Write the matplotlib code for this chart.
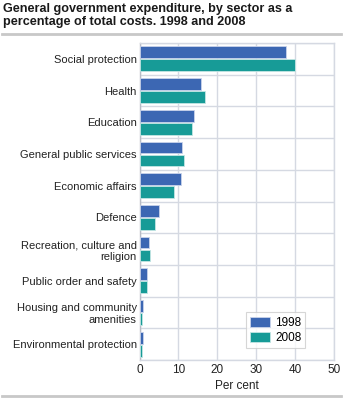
import matplotlib
matplotlib.use("Agg")
import matplotlib.pyplot as plt
import numpy as np

categories = ["Social protection", "Health", "Education", "General public services",
              "Economic affairs", "Defence", "Recreation, culture and\nreligion",
              "Public order and safety", "Housing and community\namenities",
              "Environmental protection"]
v1998 = [37.6, 15.9, 14.1, 11.0, 10.7, 4.9, 2.5, 2.0, 0.8, 1.0]
v2008 = [40.0, 16.8, 13.4, 11.4, 8.8, 4.0, 2.7, 2.0, 0.75, 0.6]
xticks = [0, 10, 20, 30, 40, 50]

c1998 = "#3c67b3"
c2008 = "#179b97"
gridc = "#d5d9e2"

plt.rcParams['font.family'] = ['Arial', 'Liberation Sans', 'DejaVu Sans']

fig = plt.figure(figsize=(3.43, 3.98), dpi=100)
ax = fig.add_axes([139.5/343, 1-360/398, (334-139.5)/343, (360-43)/398])

n = len(categories)
y = np.arange(n)
h = 0.37
ax.barh(y - 0.205, v1998, height=h, color=c1998, edgecolor="#c9d3ea", linewidth=0.6, label="1998", zorder=3)
ax.barh(y + 0.205, v2008, height=h, color=c2008, edgecolor="#c4e6e4", linewidth=0.6, label="2008", zorder=3)

ax.set_ylim(n - 0.5, -0.5)
ax.set_xlim(0, 50)
ax.set_xticks(xticks)
ax.set_xticklabels([str(t) for t in xticks], fontsize=8.5, color="#222222")
ax.set_yticks(y)
ax.set_yticklabels(categories, fontsize=8, color="#222222")
ax.set_yticks(np.arange(n + 1) - 0.5, minor=True)
ax.tick_params(axis='both', which='both', length=0)
ax.tick_params(axis='y', pad=2)
ax.tick_params(axis='x', pad=3)
ax.grid(axis='x', which='major', color=gridc, linewidth=1, zorder=0)
ax.grid(axis='y', which='minor', color=gridc, linewidth=1, zorder=0)
for s in ax.spines.values():
    s.set_color(gridc)
    s.set_linewidth(1)
ax.spines['left'].set_color("#b8bcc6")
ax.set_xlabel("Per cent", fontsize=8.5, color="#222222", labelpad=3)

leg = ax.legend(loc='lower right', bbox_to_anchor=(0.853, 0.038), fontsize=8.5, frameon=True,
                fancybox=False, edgecolor="#cccccc", handlelength=1.75, handleheight=0.95,
                borderpad=0.35, labelspacing=0.25, handletextpad=0.4, borderaxespad=0)
leg.get_frame().set_linewidth(0.8)

fig.text(3/343, 1-3/398, "General government expenditure, by sector as a\npercentage of total costs. 1998 and 2008",
         fontsize=9.1, fontweight='bold', color="#1a1a1a", va='top', ha='left', linespacing=1.1)
fig.add_artist(plt.Line2D([2/343, 341/343], [1-34/398, 1-34/398], color="#c8c8c8", linewidth=2))
fig.add_artist(plt.Line2D([2/343, 341/343], [1-396/398, 1-396/398], color="#c8c8c8", linewidth=2))

fig.savefig("out.png", dpi=100)
